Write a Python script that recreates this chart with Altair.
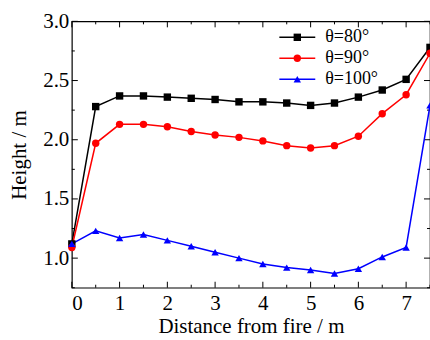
import altair as alt
import pandas as pd

# Distance from the fire source (m)
distance = [0, 0.5, 1, 1.5, 2, 2.5, 3, 3.5, 4, 4.5, 5, 5.5, 6, 6.5, 7, 7.5]

# Smoke layer height (m) for each inclination angle
height_80 = [1.12, 2.28, 2.37, 2.37, 2.36, 2.35, 2.34, 2.32, 2.32, 2.31, 2.29, 2.31, 2.36, 2.42, 2.51, 2.78]
height_90 = [1.09, 1.97, 2.13, 2.13, 2.11, 2.07, 2.04, 2.02, 1.99, 1.95, 1.93, 1.95, 2.03, 2.22, 2.38, 2.73]
height_100 = [1.12, 1.23, 1.17, 1.20, 1.15, 1.10, 1.05, 1.00, 0.95, 0.92, 0.90, 0.87, 0.91, 1.01, 1.09, 2.29]

series_names = ["θ=80°", "θ=90°", "θ=100°"]
series_colors = ["#000000", "#ff0000", "#0000ff"]
marker_shapes = ["square", "circle", "triangle-up"]

x_labels = [0, 1, 2, 3, 4, 5, 6, 7]
y_labels = [1.0, 1.5, 2.0, 2.5, 3.0]
x_minor = [0.5, 1.5, 2.5, 3.5, 4.5, 5.5, 6.5, 7.5]
y_minor = [0.75, 1.25, 1.75, 2.25, 2.75]

rows = []
for name, values in zip(series_names, [height_80, height_90, height_100]):
    for d, h in zip(distance, values):
        rows.append({"distance": d, "height": h, "series": name})
df = pd.DataFrame(rows)
legend_df = pd.DataFrame({"series": series_names, "row": [0, 1, 2]})

W, H = 359, 267
FONT = "Liberation Serif"
MAJOR, MINOR = 6, 3

x_scale = alt.Scale(domain=[0, 7.5], nice=False, zero=False)
y_scale = alt.Scale(domain=[0.75, 3.0], nice=False, zero=False)
color_scale = alt.Scale(domain=series_names, range=series_colors)
shape_scale = alt.Scale(domain=series_names, range=marker_shapes)


def x_ticks(values, length, at_top):
    # inward ticks on the bottom or top edge of the frame
    y0 = 0 if at_top else H
    y1 = length if at_top else H - length
    return alt.Chart(pd.DataFrame({"pos": values})).mark_rule(color="black", strokeWidth=1).encode(
        x=alt.X("pos:Q", scale=x_scale, axis=None),
        y=alt.value(y0), y2=alt.value(y1),
    )


def y_ticks(values, length, at_right):
    # inward ticks on the left or right edge of the frame
    x0 = W if at_right else 0
    x1 = W - length if at_right else length
    return alt.Chart(pd.DataFrame({"pos": values})).mark_rule(color="black", strokeWidth=1).encode(
        y=alt.Y("pos:Q", scale=y_scale, axis=None),
        x=alt.value(x0), x2=alt.value(x1),
    )


frame_ticks = [
    x_ticks(x_labels, MAJOR, False), x_ticks(x_minor, MINOR, False),
    x_ticks(x_labels, MAJOR, True), x_ticks(x_minor, MINOR, True),
    y_ticks(y_labels, MAJOR, False), y_ticks(y_minor, MINOR, False),
    y_ticks(y_labels, MAJOR, True), y_ticks(y_minor, MINOR, True),
]

lines = alt.Chart(df).mark_line(strokeWidth=1.5).encode(
    x=alt.X(
        "distance:Q", scale=x_scale,
        axis=alt.Axis(
            orient="bottom", values=x_labels, ticks=False, domain=False, grid=False,
            labelFont=FONT, labelFontSize=21, labelColor="black", labelPadding=5,
            title="Distance from fire / m", titleFont=FONT, titleFontSize=21,
            titleFontWeight="normal", titleColor="black", titlePadding=2,
        ),
    ),
    y=alt.Y(
        "height:Q", scale=y_scale,
        axis=alt.Axis(
            orient="left", values=y_labels, format=".1f", ticks=False, domain=False,
            grid=False, labelFont=FONT, labelFontSize=21, labelColor="black",
            labelPadding=3, title="Height / m", titleFont=FONT, titleFontSize=21,
            titleFontWeight="normal", titleColor="black", titlePadding=13,
        ),
    ),
    color=alt.Color("series:N", scale=color_scale, legend=None),
)

points = alt.Chart(df).mark_point(filled=True, size=55, opacity=1).encode(
    x=alt.X("distance:Q", scale=x_scale, axis=None),
    y=alt.Y("height:Q", scale=y_scale, axis=None),
    color=alt.Color("series:N", scale=color_scale, legend=None),
    shape=alt.Shape("series:N", scale=shape_scale, legend=None),
)

# Legend block in the upper right: line + marker swatch, then the label
row_y = alt.Y("row:Q", scale=alt.Scale(domain=[0, 2], range=[16, 58], nice=False, zero=False), axis=None)
legend_base = alt.Chart(legend_df)
legend_lines = legend_base.mark_rule(strokeWidth=1.5).encode(
    y=row_y, x=alt.value(208), x2=alt.value(244),
    color=alt.Color("series:N", scale=color_scale, legend=None),
)
legend_marks = legend_base.mark_point(filled=True, size=55, opacity=1).encode(
    y=row_y, x=alt.value(226),
    color=alt.Color("series:N", scale=color_scale, legend=None),
    shape=alt.Shape("series:N", scale=shape_scale, legend=None),
)
legend_text = legend_base.mark_text(
    align="left", baseline="middle", font=FONT, fontSize=18, color="black"
).encode(y=row_y, x=alt.value(254), text="series:N")

chart = (
    alt.layer(*frame_ticks, lines, points, legend_lines, legend_marks, legend_text)
    .resolve_scale(y="independent")
    .resolve_axis(x="independent", y="independent")
    .properties(
        width=W, height=H,
        autosize=alt.AutoSizeParams(type="none"),
        padding={"left": 72, "top": 21, "right": 0, "bottom": 52},
        background="white",
    )
    .configure_view(stroke="black", strokeWidth=1.2)
)

chart.save("out.html", embed_options={"renderer": "svg", "actions": False})
